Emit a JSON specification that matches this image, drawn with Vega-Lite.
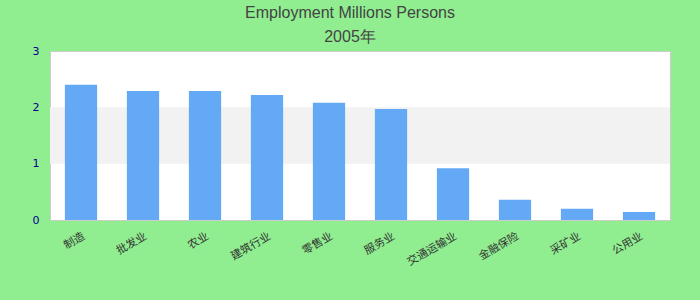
{
  "$schema": "https://vega.github.io/schema/vega-lite/v6.json",
  "autosize": "none",
  "width": 620,
  "height": 169,
  "padding": {"left": 50, "top": 51, "right": 30, "bottom": 80},
  "background": "#90ee90",
  "title": {
    "text": "Employment Millions Persons",
    "subtitle": "2005年",
    "anchor": "middle",
    "dx": -10,
    "font": "Liberation Sans",
    "fontSize": 16,
    "fontWeight": "normal",
    "color": "#444444",
    "subtitleFont": "Liberation Sans",
    "subtitleFontSize": 16,
    "subtitleColor": "#444444",
    "subtitlePadding": 8,
    "offset": 0
  },
  "config": {
    "view": {"stroke": "#cccccc", "fill": "#ffffff"},
    "font": "Liberation Sans"
  },
  "layer": [
    {
      "data": {"values": [{"lo": 1, "hi": 2}]},
      "mark": {"type": "rect", "color": "#f2f2f2"},
      "encoding": {
        "y": {"field": "lo", "type": "quantitative", "scale": {"domain": [0, 3]}},
        "y2": {"field": "hi"}
      }
    },
    {
      "data": {"values": [
        {"category": "制造", "value": 2.40},
        {"category": "批发业", "value": 2.29},
        {"category": "农业", "value": 2.29},
        {"category": "建筑行业", "value": 2.22},
        {"category": "零售业", "value": 2.08},
        {"category": "服务业", "value": 1.97},
        {"category": "交通运输业", "value": 0.92},
        {"category": "金融保险", "value": 0.36},
        {"category": "采矿业", "value": 0.20},
        {"category": "公用业", "value": 0.14}
      ]},
      "mark": {"type": "bar", "color": "#63a9f5"},
      "encoding": {
        "x": {
          "field": "category", "type": "nominal", "sort": null,
          "scale": {"paddingInner": 0.48, "paddingOuter": 0.24},
          "axis": {
            "title": null, "ticks": false, "domain": false,
            "labelAngle": -30, "labelAlign": "right", "labelBaseline": "top",
            "labelPadding": 10, "labelColor": "#333333", "labelFontSize": 11,
            "labelFont": "Noto Sans CJK SC"
          }
        },
        "y": {
          "field": "value", "type": "quantitative",
          "scale": {"domain": [0, 3]},
          "axis": {
            "title": null, "ticks": false, "domain": false, "grid": false,
            "values": [0, 1, 2, 3], "format": "d", "labelPadding": 11,
            "labelColor": "#00008b", "labelFontSize": 11,
            "labelFont": "DejaVu Sans"
          }
        }
      }
    }
  ]
}
